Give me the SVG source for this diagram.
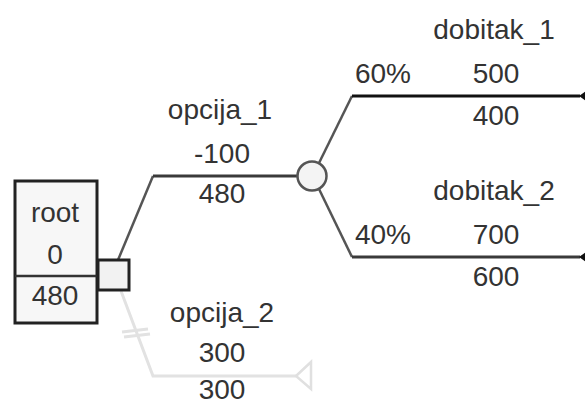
<svg xmlns="http://www.w3.org/2000/svg" width="585" height="405" viewBox="0 0 585 405">
<style>
text{font-family:"Liberation Sans",Arial,sans-serif;font-size:28px;fill:#333;text-anchor:middle}
.ln{fill:none;stroke:#3a3a3a;stroke-width:3;stroke-linejoin:round}
.dg{fill:none;stroke:#555;stroke-width:2.5}
.dk{stroke:#111}
.gr{fill:none;stroke:#e2e2e2;stroke-width:3}
.term{fill:#111}
</style>
<rect width="585" height="405" fill="#ffffff"/>
<g id="connectors">
<line class="dg" x1="118" y1="260" x2="153" y2="176"/>
<line class="ln" x1="153" y1="176" x2="298" y2="176"/>
<polyline class="gr" points="121,291 153,376 296,376"/>
<line class="gr" x1="122" y1="332" x2="148" y2="329" stroke-width="2.5"/>
<line class="gr" x1="124" y1="337" x2="150" y2="334" stroke-width="2.5"/>
<line class="dg" x1="319" y1="163" x2="352" y2="96"/>
<line class="ln dk" x1="352" y1="96" x2="580" y2="96"/>
<line class="dg" x1="319" y1="189" x2="352" y2="257"/>
<line class="ln" x1="352" y1="257" x2="580" y2="257"/>
</g>
<g id="root">
<rect x="15" y="181" width="82" height="142" fill="#f7f7f7" stroke="#222" stroke-width="3"/>
<line x1="15" y1="276" x2="97" y2="276" stroke="#333" stroke-width="2.5"/>
<text x="55" y="222">root</text>
<text x="55" y="264">0</text>
<text x="55" y="305">480</text>
</g>
<g id="decision">
<rect x="98" y="260" width="31" height="30" fill="#f2f2f2" stroke="#222" stroke-width="3"/>
</g>
<g id="opcija_1">
<text x="220" y="119">opcija_1</text>
<text x="222" y="163">-100</text>
<text x="222" y="203">480</text>
</g>
<g id="opcija_2">
<text x="222" y="322">opcija_2</text>
<text x="222" y="362">300</text>
<text x="222" y="399">300</text>
<polygon points="296,376 311,362 311,389" fill="#ffffff" stroke="#e0e0e0" stroke-width="2.5"/>
</g>
<g id="chance">
<circle cx="312" cy="176" r="14.5" fill="#f4f4f4" stroke="#555" stroke-width="2.5"/>
</g>
<g id="dobitak_1">
<text x="494" y="39">dobitak_1</text>
<text x="383" y="83">60%</text>
<text x="496" y="83">500</text>
<text x="496" y="125">400</text>
<polygon class="term" points="579,96 590,88 590,104"/>
</g>
<g id="dobitak_2">
<text x="494" y="200">dobitak_2</text>
<text x="383" y="244">40%</text>
<text x="496" y="244">700</text>
<text x="496" y="286">600</text>
<polygon class="term" points="579,257 590,249 590,265"/>
</g>
</svg>
